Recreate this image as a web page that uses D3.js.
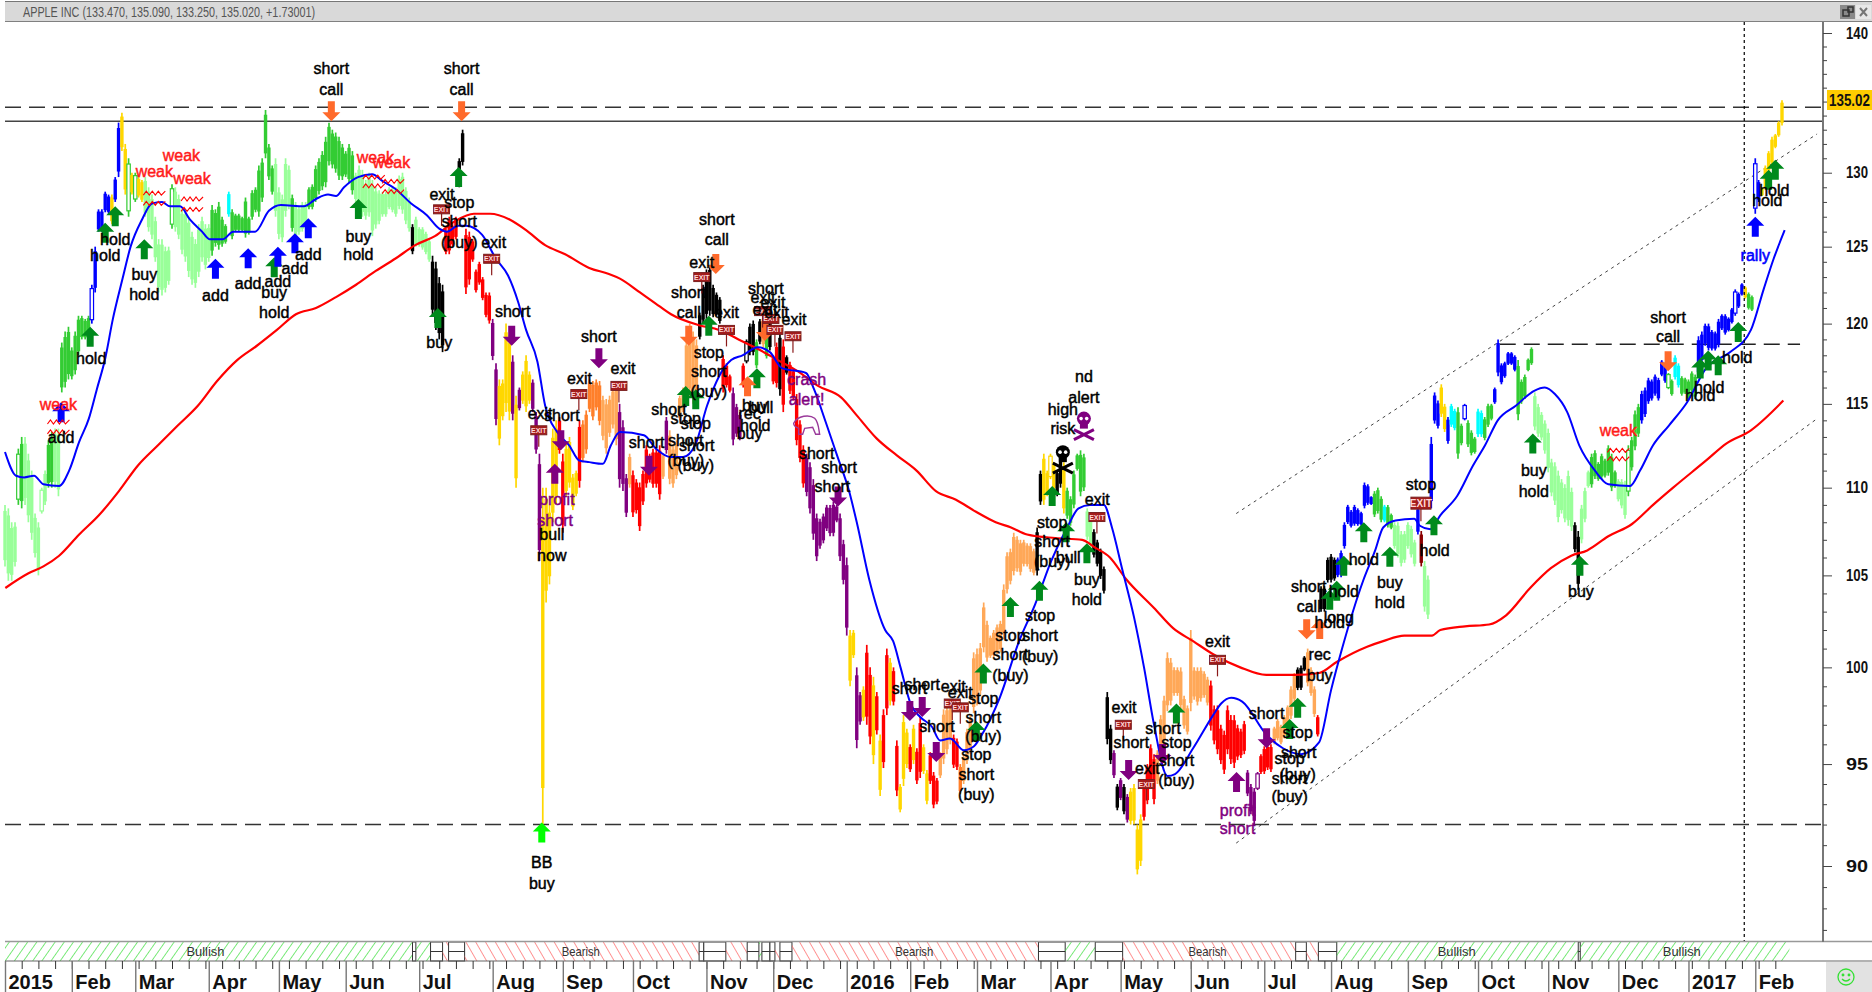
<!DOCTYPE html>
<html><head><meta charset="utf-8">
<script src="https://cdn.jsdelivr.net/npm/d3@7"></script>
<style>html,body{margin:0;padding:0;background:#fff;overflow:hidden}svg{display:block}</style>
</head><body><svg id="c" width="1872" height="992"></svg>
<script>
// ---- daily bars by month: [tone, high, low]. Lower case tone = hollow candle
const jan15=[["L",109,105.5],["L",108.8,104.7],["L",108,104.7],["L",108,105.5],["g",112.3,109],["G",113,108.8],["L",113,109],["L",112,108],["L",111,107],["L",108.5,106],["L",108,105],["l",110,108.5],["L",111,109],["G",112.8,110],["G",113.3,110],["L",113.5,110],["L",113.5,109.5],["G",118.8,115.7],["G",119.5,116],["G",119.8,116.5]];
const feb15=[["G",118.5,116.5],["G",119.5,116.8],["G",120.5,118],["G",120.5,119],["G",120.3,119],["G",120.5,119],["b",122.5,120],["B",125,122],["B",127.5,126],["B",127.5,126],["B",128.7,127.3],["B",128.5,127.2],["Y",128.5,126.5],["B",129.7,128],["B",133.5,129.7],["Y",134.2,131.5],["Y",132,128.5],["g",131,127],["Y",130,128.5]];
const mar15=[["g",130,128],["Y",129.7,128.3],["Y",129.5,128],["L",129.7,127],["L",129,126],["L",128.5,125.5],["L",127,124],["L",125.5,122],["L",125.5,121.8],["L",125,122],["L",125,122.5],["g",129.2,126.2],["L",129,126],["L",128.5,125.5],["L",127.5,124.5],["L",127.5,124],["L",127,123],["L",126,122.5],["L",125.5,122.3],["L",126.5,123],["L",127,124],["L",126.5,123.5]];
const apr15=[["L",126.5,124],["G",127.8,124.4],["G",127.5,125],["G",128,124.8],["G",127,125],["G",126.5,125.2],["C",128.7,127],["G",127.5,125.5],["G",127.2,126],["G",127.2,126],["G",127,126],["G",128.3,125.6],["G",127,125.8],["G",128.8,126.8],["G",129,127.3],["G",130.5,127],["G",131,128],["G",134.4,131],["G",132,129.5],["G",130.5,128.5],["L",131,127]];
const may15=[["L",129,125.5],["L",128.5,125.3],["L",131,127],["L",130.5,127.5],["G",128.5,126],["L",128,125.5],["L",127.7,125.8],["L",128,126],["L",128,126.2],["G",129,127.5],["G",129.2,127.5],["G",130.5,128],["G",131,128.5],["G",131.5,128.8],["G",132.5,129],["G",133.5,130.5],["G",133,130.3],["G",132.8,130],["G",132.5,129.5],["G",132,129.5]];
const jun15=[["G",131.5,129.7],["G",132,129.3],["G",131.5,128.5],["L",130,128],["L",130.5,127.5],["L",130.2,127],["L",129.5,126.8],["L",130,127],["L",129.5,125.7],["L",129,126.2],["L",128.8,126.5],["L",128.7,127],["L",128.7,127],["L",129,127.5],["L",129,127.3],["L",129,127],["L",129.8,127.5],["L",130,127.2],["L",129,126.5],["L",128.3,126],["K",126.5,124.5],["L",127,125]];
const jul15=[["L",126.3,125],["L",126.3,124.8],["L",126,124.5],["L",125.5,124],["K",124.4,120.5],["K",124,119.6],["K",123,119],["K",122.5,118.2],["R",126.2,124.5],["R",127,124.5],["R",126.5,125],["R",127,125.5],["K",131,129],["K",133,130.5],["R",126.2,121.9],["R",126,122.5],["R",125.5,124],["R",123.5,122],["R",124,122.5],["R",123,121.5],["R",122,120.4],["R",122,120]];
const aug15=[["P",120.3,117.7],["P",117.5,113.7],["Y",116.5,112.5],["Y",116.5,114],["Y",120,114.5],["Y",119.3,114],["P",118,114],["Y",115.5,110],["P",116,114.6],["Y",117,115],["Y",118,114.5],["Y",117,115],["P",116.5,114.5],["P",114.5,112],["P",112,105.8],["Y",110,92],["Y",110,103.5],["Y",109,104.5],["Y",113.5,108],["Y",114,109],["R",114.2,112]];
const sep15=[["R",112,107.4],["Y",112.6,109.5],["Y",113,110],["Y",110.8,108.7],["Y",111,109.5],["R",114,110],["D",114,111.5],["D",114.6,112],["D",116.5,114.5],["D",116.4,114],["D",116.5,114.6],["D",116.4,113.7],["O",115.5,112.8],["O",115.3,112],["O",115.5,113],["O",116,113.5],["O",116.3,112.5],["P",115,110],["P",114,109.8],["P",110.8,108.3],["O",112,110]];
const oct15=[["R",111,108.3],["R",110.5,108.5],["R",110.3,107.5],["R",111,109],["R",112.5,110],["R",112,110.3],["R",112.3,110],["R",112.3,110],["R",112.5,109.3],["O",112,110.5],["P",114.2,112],["O",113.4,110.2],["O",112.5,110],["O",112.8,110.5],["O",115.5,114],["O",116,114.5],["O",119,115.2],["O",120,115.5],["O",119.5,115],["O",119,115.2],["K",120.7,119],["K",122.5,120]];
const nov15=[["K",123.5,120.3],["K",123.8,120.5],["K",122.5,120.4],["K",122,120.5],["K",121.7,120],["R",118,115.7],["R",117.5,116],["R",116.8,115.7],["P",116,112.5],["P",115,113],["P",114.5,112.8],["R",117.5,116],["k",119,117.5],["K",120,118],["K",120.2,118],["G",119,117.2],["K",120.3,118.7],["O",120.5,118.5],["G",119.3,117.8],["K",120.5,118.3]];
const dec15=[["R",118,116.2],["R",118.8,116],["K",119.5,115.5],["R",119,114.5],["K",118,116.8],["R",117.6,115.6],["R",117.2,115.2],["R",115.6,112.5],["R",114,111.5],["R",112.5,110],["P",112,109.5],["P",111.5,108.5],["P",110.5,107],["P",108.5,105.8],["P",108.2,106.5],["P",108.5,106.8],["P",109,107.5],["P",109,107.2],["P",109.2,107.2],["P",109,108],["P",108.5,105.8],["P",107,104.5]];
const jan16=[["P",106,101.7],["Y",102,99],["Y",102,100.5],["P",100,95.8],["P",98.7,97],["Y",99,97.2],["R",101.2,97],["R",100,96],["Y",99.5,95],["R",98.7,96.5],["Y",96.5,93.4],["R",97.8,94.8],["R",101,97.5],["Y",100.5,98],["R",100,98],["R",96.2,93.4],["Y",94,92.6],["Y",97.5,93.9],["Y",96.8,94.8]];
const feb16=[["R",96,94.6],["Y",97,95],["R",95.8,94],["R",97.4,94.3],["Y",96,94.5],["Y",94.7,93],["R",95.6,94],["R",94.6,92.8],["R",94.3,93],["O",95.6,94.3],["O",97.8,95],["O",98,95.5],["O",98,96],["R",96.5,94.8],["R",96.3,94.7],["D",95,93.5],["O",95.5,94],["O",96.8,95],["O",97.5,95.5],["O",100.8,97.6]];
const mar16=[["O",101,98],["O",101.3,98.5],["O",103.5,100.8],["O",102.5,100.3],["O",101.7,100.5],["O",102,100.5],["O",102.3,100.7],["O",102.5,100.8],["O",104.5,101.5],["O",106.3,104],["O",106.5,104.5],["O",107.4,105],["O",107.2,105.2],["O",107,105],["O",107,105.5],["O",106.8,105.5],["O",106.8,105.2],["O",106.5,105],["K",107.7,105],["K",111,109],["Y",112,109],["Y",111,109.5]];
const apr16=[["y",112,110.5],["Y",111.5,109.8],["K",111,109.5],["K",112.3,110],["Y",111.5,108.5],["G",110,108.2],["G",109.5,107.8],["G",111,108.8],["G",112,111],["G",112.2,109.5],["G",112,109.8],["L",108.8,107],["L",108.5,106.5],["K",107.6,106],["K",107,105.5],["K",106.5,104.8],["K",105.5,104],["K",98.7,96],["K",97,95],["P",95.7,94.3],["K",94,92.7]];
const may16=[["P",94.3,93.2],["K",94,92.5],["P",93.5,92.1],["Y",93.8,92],["Y",94,92],["Y",92,89.6],["Y",92.5,90],["R",94,92.2],["R",95,93],["R",96,94],["R",95.5,93],["O",95.7,94],["O",97.5,95.3],["O",98.5,96],["O",100.8,97.7],["O",100.5,98],["O",100,98.5],["O",100,98.5],["O",100,97.8],["O",98.5,96.8],["O",98,96.5]];
const jun16=[["O",102,97.7],["O",100,98.3],["O",100,98],["O",100,98.2],["O",99.8,98.4],["O",99.5,98],["R",99.3,96.7],["R",98,96],["R",98,95.5],["R",97,95],["R",96.7,94.5],["R",98,95.5],["R",97.5,95],["R",97.5,94.8],["R",97,95.2],["R",96.8,95.3],["R",97.2,95.5],["P",94.7,93.4],["P",94,92.5],["P",93.8,92],["p",94.6,93.7],["R",95.5,94.5]];
const jul16=[["R",95.9,94.5],["R",96,94.7],["R",96,94.6],["O",96.9,96],["O",97.3,96.2],["O",97,96],["O",97.5,96.3],["O",98,97],["O",99,97.3],["O",99.7,98.2],["K",100,98.8],["K",100.1,98.8],["K",100.6,99.8],["O",101,99],["O",100,98.5],["O",99,97.4],["R",97.5,96.4],["K",104.4,103],["K",104.4,103],["K",106,104.6]];
const aug16=[["K",106.2,104.6],["K",106,104.7],["B",106,104.9],["B",106.4,104.9],["B",108,106.5],["B",109,107.9],["B",108.7,107.7],["B",109,107.8],["B",108.8,107.8],["B",108.6,107.8],["B",110.3,108.8],["B",110.2,109],["B",109.5,109],["G",109.8,108.3],["G",110,108.5],["G",109.5,108],["C",109,108],["G",109,107.7],["G",108.5,107.6],["L",108,106.5],["L",108,106],["L",107.5,105.5],["L",107.5,105.7]];
const sep16=[["L",108,106.5],["L",107.8,106],["L",107,105.5],["B",108.9,107.3],["M",107.5,105.5],["L",105.8,103],["L",105,102.6],["B",113,108.8],["B",115.7,113.8],["B",115.2,113.5],["Y",116.2,114.2],["Y",115,113.3],["B",114.2,112.6],["C",115,113.6],["C",114.7,113.4],["G",114.8,111.7],["G",113.8,112.5],["b",115,114],["G",114,112.4],["G",113.4,111.9],["G",113,112]];
const oct16=[["C",114.7,113],["C",114.6,113],["G",114.2,112.8],["G",115,113.6],["G",115,114],["B",116,115],["B",119,116.7],["B",117.5,116.2],["B",117.6,116.6],["B",118.2,117.4],["B",118.2,117.4],["B",118,117],["G",117.7,114],["G",116.5,115],["G",116.8,115.3],["G",117.8,117],["G",118.5,117.4],["L",115.7,113.4],["L",115,113],["L",114.5,112.8],["L",114,112]];
const nov16=[["L",113.5,110.9],["L",111.7,109.5],["L",111.5,109],["L",111,108],["L",110.5,108.5],["L",110.2,108],["L",111,107.8],["L",110,107.5],["K",108,106.3],["K",107.5,104.2],["L",109,106.8],["L",110,108],["L",111,110],["G",112,110],["G",112.2,110.5],["G",111.5,110.4],["G",112,110.5],["G",111.7,110.6],["G",112.5,110.7],["G",112,109.8],["G",111,110]];
const dec16=[["L",110.5,109.2],["L",110.5,108.8],["L",110.4,108.2],["g",112.5,109.5],["G",113,111],["G",114.6,112.2],["G",115,113],["B",115.8,113.8],["B",116,114.2],["B",116.6,115],["B",116.5,115.2],["B",116.8,115.5],["B",116.6,115.2],["B",117.7,116.7],["B",117.5,116.3],["g",116.9,115.9],["G",116.5,115.5],["C",118,116.5],["C",117.5,116],["G",116.7,115.5],["G",116.6,115.6]];
const jan17=[["G",116.5,115.2],["G",117,115.7],["G",116.8,115.3],["B",119.2,116.7],["B",119.5,117.5],["B",120,118.6],["B",120,118.3],["B",119.6,118.3],["B",119.5,118.3],["B",120.3,118.5],["B",120.6,119.6],["B",120.6,119.3],["B",120.4,119.5],["B",121,120],["b",122.2,120.5],["B",122,121],["B",122.6,121.8],["Y",122.4,121.6],["G",122,120.9],["G",121.8,120.8]];
const feb17=[["b",131,127.2],["B",129.5,128],["Y",129,128.4],["Y",130.5,128.8],["Y",131.5,130],["Y",132.5,130.5],["Y",132.7,131.7],["Y",133.6,132.5],["Y",135.1,133.3]];
const monthBars=[jan15,feb15,mar15,apr15,may15,jun15,jul15,aug15,sep15,oct15,nov15,dec15,jan16,feb16,mar16,apr16,may16,jun16,jul16,aug16,sep16,oct16,nov16,dec16,jan17,feb17];
const monthStarts=[0,20,39,61,82,102,124,146,167,188,210,230,252,271,291,313,334,355,377,397,420,441,462,483,504,524];
const monthNames=["2015","Feb","Mar","Apr","May","Jun","Jul","Aug","Sep","Oct","Nov","Dec","2016","Feb","Mar","Apr","May","Jun","Jul","Aug","Sep","Oct","Nov","Dec","2017","Feb"];

// ---- moving averages: [bar number, price]
const fastAverage=[[0,112.1],[3.3,110.7],[5.7,110.6],[8.7,110.7],[11.5,110.2],[16.2,110.1],[19.2,111],[22.2,112.7],[25.1,114.1],[27.5,115.9],[30,117.8],[32.3,120.3],[35.2,122.9],[37.6,125],[41,126.8],[44,127.9],[47,128],[49.4,127.7],[52.4,127.7],[55.4,126.8],[59,126],[61.2,125.5],[65.3,125.5],[68.3,126],[71.9,126],[74.9,126],[79,127.4],[82.6,127.8],[89.5,127.7],[93.1,128.2],[96.7,128.5],[99.1,128.4],[101.5,129],[105.7,129.7],[109.9,129.9],[113.2,129.4],[116.8,128.9],[121.6,127.9],[126.3,127.1],[130,126.2],[132.3,126],[135.6,126.4],[138,126.4],[142.8,125.8],[147,124.2],[150.6,123.1],[153.6,121.4],[156,119.6],[159.4,117.6],[161.7,114.9],[165.3,113.3],[168.9,112.5],[171.9,111.6],[174.9,111.5],[179,111.4],[181.4,112.5],[184.1,113.3],[191.3,113.1],[194.9,112.3],[199.4,111.8],[203,111.8],[206.6,112.5],[210.2,114.9],[213.8,116.7],[217.4,117.7],[220.8,118],[225.4,118.5],[229,118.2],[232.6,117.2],[239.8,116.9],[242.2,115.9],[245.7,113.9],[249.1,111.9],[252.7,109.8],[255,108],[258.7,104.8],[263.5,102],[265.9,101.4],[268.1,100],[271.1,98.1],[274,97.4],[277.5,96.9],[279.9,96.2],[282.9,96.3],[287.1,95.7],[290.1,95.9],[292.5,96.5],[297.8,98.4],[303.6,101.4],[308.4,103.4],[313.2,105.8],[318,107.7],[321.4,108.8],[324.8,109],[329,109],[331.4,107.7],[334.4,105.4],[338,102.7],[341,100],[344,97],[348,94.4],[350.3,94.5],[355.7,95.8],[361.7,97.5],[364.1,98.1],[367.1,98.4],[370.4,98.2],[377.6,96.5],[382.6,95.8],[388,95.5],[393.4,96.1],[397,98.8],[400.3,101],[406.6,104.7],[410.2,106.4],[412.6,107.7],[416.3,108.1],[421.9,108.2],[423.6,107.8],[426.7,107.6],[429.7,108.4],[434.7,109.5],[439.5,111.3],[443.1,112.5],[446.9,114],[452.4,114.9],[457.8,115.8],[461,116],[464,115.6],[467.7,114.5],[471.3,112.5],[476,111],[480,110.2],[486.5,110.1],[489.5,111],[493.4,112.5],[498.2,113.7],[503.6,115.1],[509.3,117.2],[516.5,118.2],[522.7,119.6],[526.5,122.2],[529.5,124.2],[532.8,126.1]];
const slowAverage=[[0.1,104.3],[6.9,105.1],[11.5,105.5],[16.2,106.1],[22.2,107.3],[28.1,108.4],[34.1,109.8],[39.8,111.3],[45.8,112.5],[51.8,113.7],[57.8,114.9],[63.5,116.4],[69.5,117.7],[75.4,118.6],[81.4,119.6],[87.1,120.6],[93.1,121],[99.1,121.7],[105.1,122.5],[111,123.4],[116.8,124.2],[122.8,125.1],[128.7,125.7],[134.7,126.7],[140.4,127.2],[145.2,127.2],[151.2,126.8],[156,126.1],[161.7,125.1],[167.7,124.5],[174.9,123.6],[180.8,123.2],[184.1,122.9],[190.1,122],[196,121.1],[199.4,120.6],[207.8,119.9],[213.8,119.6],[219.6,119],[225.4,118.4],[231.4,117.7],[237.4,117],[243.4,116.1],[250.3,115.4],[255,114.3],[261,112.9],[267,111.9],[272.9,111],[278.7,109.8],[284.7,109.3],[290.7,108.6],[296.6,108],[301.2,107.7],[306,107.3],[314.4,107.1],[322.5,107],[326,106.6],[330.8,106],[335.6,104.8],[344,103.2],[349.7,102.1],[355.7,101.4],[361.7,100.7],[369.8,100],[377.6,99.6],[386.2,99.6],[393.4,99.7],[398.8,100.3],[407.8,101.1],[412.6,101.4],[418.9,101.7],[427.2,101.7],[429.7,102],[437.1,102.2],[444.3,102.3],[449.4,102.8],[456.6,104.3],[462.8,105.4],[468.9,106.1],[473.7,106.4],[480,107.2],[487.1,107.9],[493.4,109],[499.4,110],[509.3,111.6],[515.3,112.6],[522.7,113.4],[532.4,115.2]];

// ---- text annotations: [text, bar number, price]
const blackNotes=[["short",97.7,137.4],["call",97.7,135.9],["short",136.7,137.4],["call",136.7,135.9],["hold",33,125.5],["hold",30,124.4],["buy",41.7,123.2],["hold",41.7,121.9],["add",63,121.8],["add",72.8,122.6],["add",81.7,122.7],["add",86.8,123.6],["add",90.8,124.5],["buy",80.6,122],["hold",80.6,120.7],["buy",105.8,125.7],["hold",105.8,124.5],["exit",130.8,128.5],["stop",136,128],["short",136,126.7],["(buy)",136,125.3],["exit",146.3,125.3],["short",152,120.8],["add",16.8,113],["hold",25.8,117.8],["buy",130,118.8],["exit",160.2,114.4],["short",166.7,114.3],["exit",172,116.6],["short",177.8,119.2],["exit",185,117.2],["bull",163.7,107.3],["now",163.7,106.1],["BB",160.7,90.2],["buy",160.7,89.2],["short",213.1,126.8],["call",213.1,125.5],["exit",208.6,124],["short",204.7,122],["call",204.7,120.7],["exit",216,120.7],["stop",210.7,118.2],["short",210.7,117],["(buy)",210.7,115.8],["short",227.8,122.3],["exit",226.9,121.7],["exit",229.9,121.4],["exit",227.5,120.9],["exit",231,120.7],["exit",236.2,120.3],["buy",224.5,114.9],["bull",226.3,114.8],["rec",222.9,114.4],["hold",224.6,113.7],["buy",222.9,113.2],["short",243,112],["short",249.7,111.2],["short",247.7,110.1],["short",198.8,114.7],["stop",203.8,114.1],["stop",206.8,113.8],["short",192.1,112.7],["short",203.8,112.8],["short",207.1,112.5],["(buy)",203.8,111.6],["(buy)",206.8,111.3],["nd",323,116.7],["alert",323,115.4],["high",316.7,114.7],["risk",316.7,113.5],["exit",327,109.3],["stop",313.5,108],["short",313.5,106.9],["(buy)",313.5,105.8],["bull",318.3,106],["buy",323.9,104.8],["hold",323.9,103.7],["stop",309.9,102.8],["short",309.9,101.7],["(buy)",309.9,100.6],["stop",301,101.7],["short",301,100.7],["(buy)",301,99.6],["stop",292.9,98.4],["short",292.9,97.4],["(buy)",292.9,96.4],["stop",290.8,95.5],["short",290.8,94.5],["(buy)",290.8,93.5],["short",270.8,98.9],["short",274.6,99.1],["short",279,96.9],["exit",283.9,99],["exit",286,98.7],["exit",335,97.9],["short",337.2,96.1],["exit",342,94.8],["short",346.7,96.8],["stop",350.7,96.1],["short",350.7,95.2],["(buy)",350.7,94.2],["exit",363,101.4],["short",377.7,97.6],["stop",387,96.6],["short",387.3,95.6],["(buy)",387,94.5],["stop",384.6,95.3],["short",384.6,94.3],["(buy)",384.6,93.4],["rec",393.6,100.7],["buy",393.6,99.6],["short",390.3,104.4],["call",390.3,103.3],["long",399.3,102.7],["hold",396.6,102.4],["hold",400.8,104.1],["hold",406.8,105.9],["buy",414.6,104.6],["hold",414.6,103.5],["hold",428,106.4],["stop",423.9,110.2],["buy",457.7,111],["hold",457.7,109.8],["buy",471.8,104.1],["short",497.9,120.4],["call",497.9,119.2],["hold",518.6,117.9],["hold",510.2,116],["hold",507.5,115.5],["hold",529.7,128.8],["hold",527.6,128.1]];
const redNotes=[["weak",52.8,131.2],["weak",44.7,130.1],["weak",56,129.6],["weak",110.9,131.1],["weak",115.7,130.7],["weak",16,115],["weak",483,113.4]];
const purpleNotes=[["profit",165.2,109.3],["short",164.7,108.1],["crash",240,116.5],["alert!",240,115.3],["profit",369,92.7],["short",369,91.8]];
const blueNotes=[["rally",524,124.4]];

// ---- signal arrows: [bar number, price at the tip]
const greenUp=[[33,127.7],[30,126.6],[41.7,125.5],[25.5,119.8],[80.6,124.3],[105.8,128.2],[135.8,130.4],[129.6,121],[210.7,120.5],[203.8,116.1],[206.8,115.9],[225.1,117.2],[313.5,110.1],[290.8,97.2],[292.9,100.2],[301,103.8],[309.7,104.7],[317.7,108],[323.9,106.8],[350.7,98.1],[384.6,97.3],[387,98.4],[396.6,104.2],[398.7,104.7],[400.8,106.1],[406.8,108],[414.6,106.6],[427.8,108.4],[457.4,113.2],[471.5,106.1],[507.5,117.8],[509.9,118.3],[512.9,118],[518.9,120.1],[528,130.2],[530,130.9]];
const blueUp=[[63,124.2],[72.8,124.9],[81.7,125],[86.8,125.9],[90.8,126.9],[16.8,115.1],[524,127]];
const orangeDown=[[97.7,133.6],[136.7,133.6],[212.8,123.2],[204.7,118.6],[227.5,118.9],[389.7,101.5],[497.9,117]];
const orangeUp=[[222.3,116.7],[393.6,102.6]];
const purpleDown=[[151.7,118.6],[166.4,112.2],[177.8,117.2],[249.4,108.9],[192.8,110.7],[270.9,97.2],[274.6,97.4],[278.8,95.1],[336.4,94.2],[346.5,95],[377.7,95.8]];
const purpleUp=[[164.6,111.4],[368.7,94.6]];
const limeUp=[[160.7,92.1]];

// ---- small marks: [bar number, price]
const exitBadges=[[130.7,127.5],[145.7,124.2],[159.8,113.4],[171.8,115.6],[183.8,116.1],[208.6,123],[216,119.6],[226.8,120.8],[229.3,120.3],[230.5,119.6],[235.9,119.2],[283.6,98.1],[286,97.9],[334.8,97],[341.7,94],[363,100.4],[326.9,108.3]];
const bigExitBadges=[[423.9,109.1]];
const weakWaves=[[44.7,128.6],[44.7,127.9],[56,128.2],[56,127.5],[110.4,129.7],[110.4,129.1],[116.2,129.4],[116.2,128.7],[16,113.9],[16,113.3],[483,112.2],[483,111.7]];
const blackSkulls=[[316.7,111.5]];
const purpleSkulls=[[323,113.5]];
const bearMarks=[[240,113.7]];

// ---- reference levels and channels
const dashedLevels=[134.6,92];
const solidLevels=[133.6];
const shortLevel=[[447.5,118.7],[537.4,118.7]];
const channelTop=[[368.6,108.5],[542.5,132.7]];
const channelBottom=[[368.6,91.1],[542.5,114.1]];
const cursorBar=[520.7];

// ---- market regime strip: [from bar, to bar, kind]
const regimes=[[0,122,"up"],[122,123,"n"],[123,127.4,"up"],[127.4,131,"n"],[131,132.8,"dn"],[132.8,137.6,"n"],[137.6,207.8,"dn"],[207.8,209.2,"n"],[209.2,215.8,"n"],[215.8,222.2,"dn"],[222.2,225.7,"n"],[225.7,226.6,"up"],[226.6,229,"n"],[229,230.5,"n"],[230.5,232,"dn"],[232,235.6,"n"],[235.6,309.4,"dn"],[309.4,317.4,"n"],[317.4,326.4,"up"],[326.4,334.6,"n"],[334.6,386.4,"dn"],[386.4,389.6,"n"],[389.6,393.2,"dn"],[393.2,398.7,"n"],[398.7,471,"up"],[471,471.6,"n"],[471.6,534.2,"up"]];
const regimeNames=[["Bullish",60],["Bearish",172.4],["Bearish",272.2],["Bearish",360],["Bullish",434.6],["Bullish",502]];
const yMajors=[140,135,130,125,120,115,110,105,100,95,90];
const priceTag=135.02;
const headline="APPLE INC (133.470, 135.090, 133.250, 135.020, +1.73001)";

// ---- colours
const tones={G:"#33cc33",L:"#99ff99",B:"#0000ff",Y:"#ffd700",K:"#000000",R:"#ff0000",P:"#800080",O:"#ffa858",D:"#ff7f2a",C:"#00ffff",M:"#8b0000"};

// ---- scales
const x=d3.scaleLinear().domain([0,532]).range([5,1782]);
const y=d3.scaleLog().domain([90,140]).range([866,33]);
const svg=d3.select("#c");
const sans="'Liberation Sans',Arial,sans-serif";
const axisX=1823;

// hatch patterns
const defs=svg.append("defs");
function hatch(id,rot,col,w){
  const p=defs.append("pattern").attr("id",id).attr("patternUnits","userSpaceOnUse").attr("width",w).attr("height",w).attr("patternTransform",`rotate(${rot})`);
  p.append("line").attr("x1",0).attr("y1",0).attr("x2",0).attr("y2",w).attr("stroke",col).attr("stroke-width",1.4);
}
hatch("hUp",35,"#44e044",7.5);hatch("hDn",-30,"#ff6868",8.5);

// header
svg.append("rect").attr("x",5).attr("y",1).attr("width",1867).attr("height",21).attr("fill","#d9d9d9");
svg.append("line").attr("x1",5).attr("x2",1872).attr("y1",1.5).attr("y2",1.5).attr("stroke","#777");
svg.append("line").attr("x1",5).attr("x2",1872).attr("y1",21.5).attr("y2",21.5).attr("stroke","#808080");
svg.append("text").attr("x",23).attr("y",17).attr("font-family",sans).attr("font-size",14).attr("fill","#555")
  .attr("textLength",292).attr("lengthAdjust","spacingAndGlyphs").text(headline);
const wb=svg.append("g");
wb.append("rect").attr("x",1840).attr("y",5).attr("width",15).attr("height",14).attr("fill","#8a8a8a");
wb.append("rect").attr("x",1843).attr("y",10).attr("width",6).attr("height",6).attr("fill","none").attr("stroke","#333").attr("stroke-width",1.5);
wb.append("rect").attr("x",1848).attr("y",7).attr("width",5).attr("height",5).attr("fill","none").attr("stroke","#333").attr("stroke-width",1.5);
wb.append("rect").attr("x",1856).attr("y",5).attr("width",15).attr("height",14).attr("fill","#e8e8e8");
wb.append("path").attr("d","M1860,8L1867,16M1867,8L1860,16").attr("stroke","#777").attr("stroke-width",2);

// channels & levels
const plain=d3.line().x(d=>x(d[0])).y(d=>y(d[1]));
const smooth=d3.line().curve(d3.curveMonotoneX).x(d=>x(d[0])).y(d=>y(d[1]));
svg.append("path").attr("d",plain(channelTop)).attr("fill","none").attr("stroke","#444").attr("stroke-dasharray","3 4");
svg.append("path").attr("d",plain(channelBottom)).attr("fill","none").attr("stroke","#444").attr("stroke-dasharray","3 4");
svg.append("path").attr("d",plain(shortLevel)).attr("fill","none").attr("stroke","#222").attr("stroke-width",1.5).attr("stroke-dasharray","16 8");
svg.selectAll("line.dash").data(dashedLevels).join("line").attr("class","dash").attr("x1",5).attr("x2",axisX).attr("y1",d=>y(d)).attr("y2",d=>y(d)).attr("stroke","#333").attr("stroke-width",1.5).attr("stroke-dasharray","16 8");
svg.selectAll("line.solid").data(solidLevels).join("line").attr("class","solid").attr("x1",5).attr("x2",axisX).attr("y1",d=>y(d)).attr("y2",d=>y(d)).attr("stroke","#444").attr("stroke-width",1.6);

// candles
const allBars=monthBars.flatMap((m,mi)=>m.map((b,j)=>({i:monthStarts[mi]+j,t:b[0],hi:b[1],lo:b[2]})));
const gBars=svg.append("g");
gBars.selectAll("line").data(allBars).join("line")
  .attr("x1",d=>x(d.i)).attr("x2",d=>x(d.i)).attr("y1",d=>y(d.hi)).attr("y2",d=>y(d.lo))
  .attr("stroke",d=>tones[d.t.toUpperCase()]).attr("stroke-width",1.7);
gBars.selectAll("rect").data(allBars).join("rect")
  .attr("x",d=>x(d.i)-1.7).attr("width",3.4)
  .attr("y",d=>y(d.hi-(d.hi-d.lo)*0.1)).attr("height",d=>y(d.lo+(d.hi-d.lo)*0.1)-y(d.hi-(d.hi-d.lo)*0.1))
  .attr("fill",d=>d.t===d.t.toLowerCase()?"#fff":tones[d.t.toUpperCase()])
  .attr("stroke",d=>d.t===d.t.toLowerCase()?tones[d.t.toUpperCase()]:"none").attr("stroke-width",1.2);

// averages
svg.append("path").attr("d",smooth(slowAverage)).attr("fill","none").attr("stroke","#ff0000").attr("stroke-width",2.2);
svg.append("path").attr("d",smooth(fastAverage)).attr("fill","none").attr("stroke","#0000ff").attr("stroke-width",2);

// cursor
svg.selectAll("line.cur").data(cursorBar).join("line").attr("class","cur").attr("x1",d=>x(d)).attr("x2",d=>x(d)).attr("y1",22).attr("y2",942).attr("stroke","#000").attr("stroke-width",1.2).attr("stroke-dasharray","3 3");

// arrows
const upShape="M0,0L9,9L3.5,9L3.5,20L-3.5,20L-3.5,9L-9,9Z";
const dnShape="M0,0L9,-9L3.5,-9L3.5,-20L-3.5,-20L-3.5,-9L-9,-9Z";
function arrows(list,shape,fill){
  svg.append("g").selectAll("path").data(list).join("path").attr("d",shape).attr("fill",fill).attr("transform",d=>`translate(${x(d[0])},${y(d[1])})`);
}
arrows(greenUp,upShape,"#008a1c");
arrows(blueUp,upShape,"#0000ff");
arrows(orangeDown,dnShape,"#ff6a2b");
arrows(orangeUp,upShape,"#ff6a2b");
arrows(purpleDown,dnShape,"#800080");
arrows(purpleUp,upShape,"#800080");
arrows(limeUp,upShape,"#00ff00");

// exit badges
function badges(list,w,h,fs){
  const g=svg.append("g").selectAll("g").data(list).join("g").attr("transform",d=>`translate(${x(d[0])},${y(d[1])})`);
  g.append("line").attr("x1",0).attr("x2",0).attr("y1",0).attr("y2",h/2+12).attr("stroke","#8b1a1a").attr("stroke-width",1.2);
  g.append("rect").attr("x",-w/2).attr("y",-h/2).attr("width",w).attr("height",h).attr("fill","#a31c1c").attr("stroke","#7a2020");
  g.append("text").attr("text-anchor","middle").attr("y",fs*0.36).attr("font-family",sans).attr("font-weight","bold").attr("font-size",fs).attr("fill","#ffd8d8").text("EXIT");
}
badges(exitBadges,16,9,7);
badges(bigExitBadges,20,12,10);

// weak waves
const waveShape=d3.line()([[-11,2],[-8,-2],[-5,2],[-2,-2],[1,2],[4,-2],[7,2],[11,-2]]);
svg.append("g").selectAll("path").data(weakWaves).join("path").attr("d",waveShape).attr("fill","none").attr("stroke","#ff0000").attr("stroke-width",1.1).attr("transform",d=>`translate(${x(d[0])},${y(d[1])})`);

// skulls: anchored where head meets crossbones
function skulls(list,col){
  const g=svg.append("g").selectAll("g").data(list).join("g").attr("transform",d=>`translate(${x(d[0])},${y(d[1])})`);
  g.append("ellipse").attr("cx",0).attr("cy",-10).attr("rx",7).attr("ry",7).attr("fill",col);
  g.append("rect").attr("x",-4).attr("y",-5).attr("width",8).attr("height",5).attr("fill",col);
  g.append("circle").attr("cx",-2.8).attr("cy",-10).attr("r",1.8).attr("fill","#fff");
  g.append("circle").attr("cx",2.8).attr("cy",-10).attr("r",1.8).attr("fill","#fff");
  g.append("path").attr("d","M-10,1L10,11M10,1L-10,11").attr("stroke",col).attr("stroke-width",3).attr("fill","none");
}
skulls(blackSkulls,"#000");
skulls(purpleSkulls,"#800080");
// bear
svg.append("g").selectAll("path").data(bearMarks).join("path").attr("fill","none").attr("stroke","#9a3a9a").attr("stroke-width",1.4)
  .attr("d","M-13,-2C-9,-10 3,-11 8,-7C12,-3 12,4 13,9L9,9L6,2L-2,3L-4,9L-8,9L-8,3C-11,2 -13,1 -13,-2Z")
  .attr("transform",d=>`translate(${x(d[0])},${y(d[1])})`);

// labels
function notes(list,col,weight){
  svg.append("g").selectAll("text").data(list).join("text")
    .attr("x",d=>x(d[1])).attr("y",d=>y(d[2])).attr("dy","0.36em").attr("text-anchor","middle")
    .attr("font-family",sans).attr("font-size",16).attr("fill",col).attr("stroke",col).attr("stroke-width",weight)
    .text(d=>d[0]);
}
notes(blackNotes,"#000",0.45);
notes(redNotes,"#ff1a1a",0.45);
notes(purpleNotes,"#800080",0.45);
notes(blueNotes,"#0000ff",0.55);

// regime strip
const stripTop=942,stripBot=961;
const gReg=svg.append("g");
gReg.selectAll("rect").data(regimes).join("rect")
  .attr("x",d=>x(d[0])).attr("width",d=>x(d[1])-x(d[0])).attr("y",stripTop).attr("height",stripBot-stripTop)
  .attr("fill",d=>d[2]==="up"?"url(#hUp)":d[2]==="dn"?"url(#hDn)":"#fff")
  .attr("stroke",d=>d[2]==="n"?"#333":"none");
gReg.selectAll("line").data(regimes.filter(d=>d[2]==="n")).join("line")
  .attr("x1",d=>x(d[0])).attr("x2",d=>x(d[1])).attr("y1",(stripTop+stripBot)/2).attr("y2",(stripTop+stripBot)/2).attr("stroke","#333");
svg.selectAll("text.reg").data(regimeNames).join("text").attr("class","reg")
  .attr("x",d=>x(d[1])).attr("y",956).attr("text-anchor","middle").attr("font-family",sans).attr("font-size",13).attr("fill","#333")
  .attr("textLength",38).attr("lengthAdjust","spacingAndGlyphs").text(d=>d[0]);
svg.append("line").attr("x1",5).attr("x2",1872).attr("y1",941.5).attr("y2",941.5).attr("stroke","#999").attr("stroke-width",1.5);
svg.append("line").attr("x1",5).attr("x2",1872).attr("y1",961).attr("y2",961).attr("stroke","#666").attr("stroke-width",1.2);

// y axis
svg.append("line").attr("x1",axisX).attr("x2",axisX).attr("y1",22).attr("y2",942).attr("stroke","#777").attr("stroke-width",2);
const yMinorVals=d3.range(87,141).filter(v=>!yMajors.includes(v));
const yMinor=svg.append("g").attr("transform",`translate(${axisX},0)`).call(d3.axisRight(y).tickValues(yMinorVals).tickSize(4).tickFormat(""));
yMinor.select(".domain").remove();
yMinor.selectAll("line").attr("stroke","#444");
const yMajor=svg.append("g").attr("transform",`translate(${axisX},0)`).call(d3.axisRight(y).tickValues(yMajors).tickSize(9).tickFormat(d3.format("d")));
yMajor.select(".domain").remove();
yMajor.selectAll("line").attr("stroke","#444");
yMajor.selectAll("text").attr("x",45).attr("text-anchor","end").attr("font-family",sans).attr("font-weight","bold").attr("font-size",16).attr("fill","#111")
  .attr("textLength",22).attr("lengthAdjust","spacingAndGlyphs");
yMajor.selectAll("text").filter(d=>d===135).remove();
svg.append("rect").attr("x",1827).attr("y",90).attr("width",45).attr("height",20).attr("fill","#ffcc00");
svg.append("text").attr("x",1870).attr("y",106).attr("text-anchor","end").attr("font-family",sans).attr("font-weight","bold").attr("font-size",17).attr("fill","#111")
  .attr("textLength",41).attr("lengthAdjust","spacingAndGlyphs").text(priceTag.toFixed(2));

// x axis
const xMinor=svg.append("g").attr("transform",`translate(0,${stripBot})`).call(d3.axisBottom(x).tickValues(d3.range(0,533,5)).tickSize(8).tickFormat(""));
xMinor.select(".domain").remove();
xMinor.selectAll("line").attr("stroke","#333");
const xMajor=svg.append("g").attr("transform",`translate(0,${stripBot})`).call(d3.axisBottom(x).tickValues(monthStarts).tickSize(31).tickFormat((d,i)=>monthNames[i]));
xMajor.select(".domain").remove();
xMajor.selectAll("line").attr("stroke","#777").attr("stroke-width",1.4);
xMajor.selectAll("text").attr("x",3).attr("y",28).attr("dy",0).attr("text-anchor","start").attr("font-family",sans).attr("font-weight","bold").attr("font-size",20).attr("fill","#111");

// smiley
svg.append("rect").attr("x",1826).attr("y",962).attr("width",46).attr("height",30).attr("fill","#e2e2e2");
const sm=svg.append("g").attr("transform","translate(1846,977)").attr("fill","none").attr("stroke","#33e033").attr("stroke-width",1.3);
sm.append("circle").attr("r",8);
sm.append("circle").attr("cx",-3).attr("cy",-2).attr("r",0.8);
sm.append("circle").attr("cx",3).attr("cy",-2).attr("r",0.8);
sm.append("path").attr("d","M-4,2Q0,6 4,2");
</script></body></html>
